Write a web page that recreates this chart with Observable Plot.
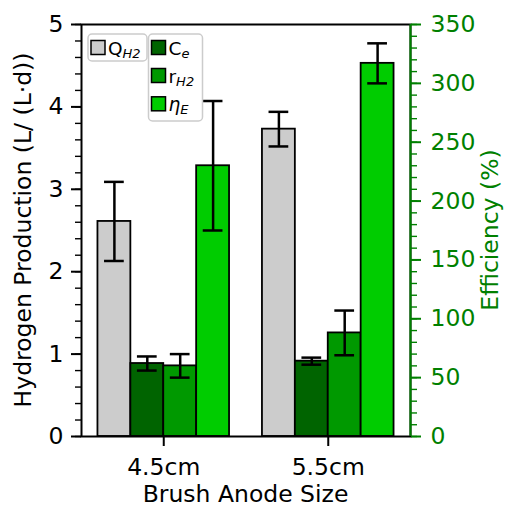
<!DOCTYPE html>
<html><head><meta charset="utf-8">
<script src="https://cdn.jsdelivr.net/npm/d3@7"></script>
<script src="https://cdn.jsdelivr.net/npm/@observablehq/plot@0.6"></script>
<style>body{margin:0;background:#fff;} #chart{width:505px;height:508px;}</style>
</head><body><div id="chart"></div>
<script>
// ---- data ----
const categories = ["4.5cm", "5.5cm"];
const qH2 = [2.61, 3.73];
const qH2Err = [0.48, 0.21];
const ce = [62, 64];
const ceErr = [6, 3];
const rH2 = [60, 88];
const rH2Err = [10, 19];
const etaE = [230, 317];
const etaEErr = [55, 17];
const leftTicks = [0, 1, 2, 3, 4, 5];
const rightTicks = [0, 50, 100, 150, 200, 250, 300, 350];
const seriesColors = ["#cccccc", "#006400", "#009900", "#00cc00"];
const xLabel = "Brush Anode Size";
const yLeftLabel = "Hydrogen Production (L/ (L\u00b7d))";
const yRightLabel = "Efficiency (%)";

// ---- build table ----
const leftMax = 5, rightMax = 350;
const ratio = rightMax / leftMax;
const barWidth = 0.2;
const capHalf = 0.06;
const series = [
  {v: qH2, e: qH2Err, k: 1},
  {v: ce, e: ceErr, k: 1 / ratio},
  {v: rH2, e: rH2Err, k: 1 / ratio},
  {v: etaE, e: etaEErr, k: 1 / ratio}
];
const rows = [];
series.forEach((s, si) => categories.forEach((c, ci) => {
  const center = ci + (si - (series.length - 1) / 2) * barWidth;
  rows.push({
    color: seriesColors[si], center,
    x1: center - barWidth / 2, x2: center + barWidth / 2,
    y: s.v[ci] * s.k,
    lo: (s.v[ci] - s.e[ci]) * s.k,
    hi: (s.v[ci] + s.e[ci]) * s.k
  });
}));
const minorLeft = d3.range(0, leftMax + 1e-9, 0.2).map(v => +v.toFixed(2));
const minorRight = d3.range(0, rightMax + 1e-9, 10).map(v => v / ratio);
const xDomain = [-0.5, categories.length - 0.5];

const W = 505, H = 508, mL = 81, mR = 95, mT = 24, mB = 72;
const font = "DejaVu Sans";
const green = "#008000";
const fs = 23.5;

const plot = Plot.plot({
  width: W, height: H,
  marginLeft: mL, marginRight: mR, marginTop: mT, marginBottom: mB,
  style: {fontFamily: font, fontSize: fs + "px", color: "black", background: "white", overflow: "visible"},
  x: {domain: xDomain},
  y: {domain: [0, leftMax]},
  color: {type: "identity"},
  marks: [
    Plot.rect(rows, {x1: "x1", x2: "x2", y1: () => 0, y2: "y", fill: "color", stroke: "black", strokeWidth: 1.8}),
    Plot.ruleX(rows, {x: "center", y1: "lo", y2: "hi", stroke: "black", strokeWidth: 2.5}),
    Plot.ruleY(rows, {y: "hi", x1: d => d.center - capHalf, x2: d => d.center + capHalf, stroke: "black", strokeWidth: 2.5}),
    Plot.ruleY(rows, {y: "lo", x1: d => d.center - capHalf, x2: d => d.center + capHalf, stroke: "black", strokeWidth: 2.5}),
    Plot.frame({stroke: "black", strokeWidth: 2}),
    Plot.ruleX([xDomain[1]], {stroke: green, strokeWidth: 2}),
    // left axis
    Plot.axisY({ticks: minorLeft, tickSize: 6, tickFormat: () => "", strokeWidth: 1.4, label: null}),
    Plot.axisY({ticks: leftTicks, tickSize: 10, tickPadding: 8, tickFormat: d => String(d), strokeWidth: 2, fontSize: fs, label: null}),
    // right axis
    Plot.axisY({anchor: "right", ticks: minorRight, tickSize: 6, tickFormat: () => "", color: green, strokeWidth: 1.4, label: null}),
    Plot.axisY({anchor: "right", ticks: rightTicks.map(v => v / ratio), tickFormat: d => String(Math.round(d * ratio)),
      tickSize: 10, tickPadding: 10, color: green, strokeWidth: 2, fontSize: fs, label: null}),
    // x axis
    Plot.axisX({ticks: categories.map((c, i) => i), tickFormat: i => categories[i], tickSize: 10, tickPadding: 12,
      strokeWidth: 2, fontSize: fs, label: null})
  ]
});
document.getElementById("chart").appendChild(plot);

const svg = d3.select(plot);
// axis titles
svg.append("text").attr("x", (mL + W - mR) / 2).attr("y", 502).attr("text-anchor", "middle")
  .attr("font-family", font).attr("font-size", fs).attr("fill", "black").text(xLabel);
svg.append("text").attr("transform", `translate(31,${(mT + H - mB) / 2}) rotate(-90)`).attr("text-anchor", "middle")
  .attr("font-family", font).attr("font-size", fs).attr("fill", "black").text(yLeftLabel);
svg.append("text").attr("transform", `translate(498,${(mT + H - mB) / 2}) rotate(-90)`).attr("text-anchor", "middle")
  .attr("font-family", font).attr("font-size", fs).attr("fill", green).text(yRightLabel);

// legends
const legendFont = 18.5, subFont = 13;
function legendBox(x, y, w, h) {
  svg.append("rect").attr("x", x).attr("y", y).attr("width", w).attr("height", h).attr("rx", 4)
    .attr("fill", "white").attr("fill-opacity", 0.85).attr("stroke", "#cccccc").attr("stroke-width", 1.5);
}
function legendEntry(x, cy, color, main, sub, mainItalic) {
  svg.append("rect").attr("x", x).attr("y", cy - 7).attr("width", 14).attr("height", 14)
    .attr("fill", color).attr("stroke", "black").attr("stroke-width", 1.5);
  const t = svg.append("text").attr("x", x + 17).attr("y", cy + 7).attr("font-family", font)
    .attr("text-anchor", "start").attr("font-size", legendFont).attr("fill", "black");
  t.append("tspan").attr("font-style", mainItalic ? "italic" : "normal").text(main);
  t.append("tspan").attr("font-style", "italic").attr("font-size", subFont).attr("dy", 3).text(sub);
}
legendBox(88, 34, 59, 27);
legendEntry(91, 47.5, seriesColors[0], "Q", "H2", false);
legendBox(148.5, 34, 54, 87);
legendEntry(151.5, 47.5, seriesColors[1], "C", "e", false);
legendEntry(151.5, 75.5, seriesColors[2], "r", "H2", false);
legendEntry(151.5, 103.8, seriesColors[3], "\u03b7", "E", true);
</script>
</body></html>
